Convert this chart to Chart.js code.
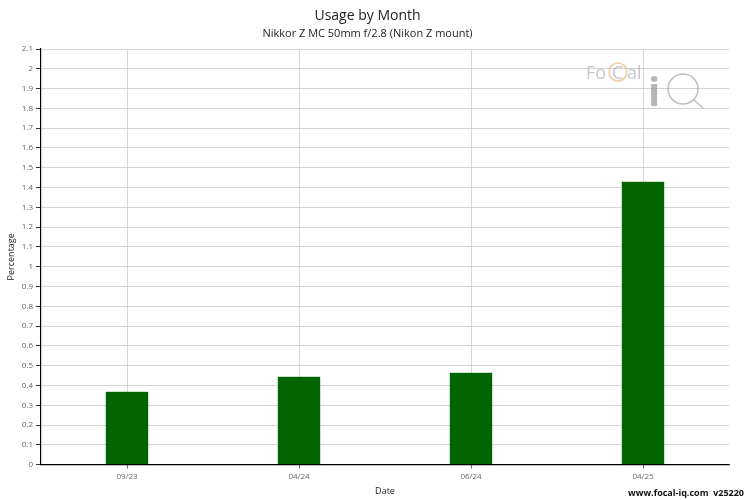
<!DOCTYPE html>
<html><head><meta charset="utf-8">
<script src="https://cdn.jsdelivr.net/npm/chart.js@4"></script>
<style>html,body{margin:0;padding:0;background:#fff}#w{width:750px;height:500px}</style>
</head><body><div id="w"><canvas id="c" width="750" height="500"></canvas></div>
<script>
const categories = ["09/23", "04/24", "06/24", "04/25"];
const usage = [0.37, 0.445, 0.465, 1.43];
const titleText = "Usage by Month";
const subtitleText = "Nikkor Z MC 50mm f/2.8 (Nikon Z mount)";
const xTitle = "Date";
const yTitle = "Percentage";
const footerText = "www.focal-iq.com  v25220";

const FONT = "'Open Sans', 'Noto Sans', sans-serif";

const decor = {
  id: 'decor',
  beforeDatasetsDraw(chart) {
    const ctx = chart.ctx;
    ctx.save();
    ctx.globalAlpha = 0.55;
    ctx.font = "18px " + FONT;
    ctx.fillStyle = '#9a9a9a';
    ctx.textBaseline = 'alphabetic';
    ctx.fillText('Fo', 586, 79);
    ctx.strokeStyle = '#e8a050';
    ctx.lineWidth = 1.5;
    ctx.beginPath(); ctx.arc(618, 72, 9, 0, Math.PI * 2); ctx.stroke();
    ctx.fillText('C', 612, 79);
    ctx.fillText('al', 627, 79);
    ctx.font = "bold 40px " + FONT;
    ctx.fillStyle = '#7a7a7a';
    ctx.fillText('i', 648, 106);
    ctx.strokeStyle = '#8a8a8a';
    ctx.lineWidth = 1.5;
    ctx.beginPath(); ctx.arc(683, 89, 15, 0, Math.PI * 2); ctx.stroke();
    ctx.beginPath(); ctx.moveTo(694, 100); ctx.lineTo(703, 108); ctx.stroke();
    ctx.restore();
  },
  afterDraw(chart) {
    const ctx = chart.ctx;
    ctx.save();
    ctx.font = "bold 9px " + FONT;
    ctx.fillStyle = '#111';
    ctx.textAlign = 'right';
    ctx.textBaseline = 'middle';
    ctx.fillText(footerText, 744, 493);
    ctx.restore();
  }
};

new Chart(document.getElementById('c'), {
  type: 'bar',
  data: {
    labels: categories,
    datasets: [{
      data: usage,
      backgroundColor: '#006400',
      borderColor: '#2e8b2e',
      borderWidth: {left: 0.5, right: 0.5, top: 0.5, bottom: 0},
      barPercentage: 0.25,
      categoryPercentage: 1.0
    }]
  },
  plugins: [decor],
  options: {
    responsive: false,
    animation: false,
    devicePixelRatio: 1,
    layout: { padding: { left: 6, right: 21, top: 2, bottom: 3 } },
    plugins: {
      legend: { display: false },
      tooltip: { enabled: false },
      title: { display: true, text: titleText, color: '#222', font: { family: FONT, size: 14, weight: 'normal' }, padding: { top: 6, bottom: 0 } },
      subtitle: { display: true, text: subtitleText, color: '#222', font: { family: FONT, size: 11, weight: 'normal' }, padding: { top: 2, bottom: 9 } }
    },
    scales: {
      x: {
        offset: true,
        grid: { offset: false, color: '#bbb', lineWidth: 0.6, tickColor: '#000', tickLength: 4, drawTicks: true },
        border: { color: '#000', width: 1.2 },
        ticks: { color: '#666', font: { family: FONT, size: 8 }, padding: 3 },
        title: { display: true, text: xTitle, color: '#222', font: { family: FONT, size: 9 }, padding: { top: 2, bottom: 0 } }
      },
      y: {
        min: 0, max: 2.1,
        grid: { color: '#c8c8c8', lineWidth: 0.8, tickColor: '#000', tickLength: 5 },
        border: { color: '#000', width: 1.2 },
        ticks: { stepSize: 0.1, color: '#666', font: { family: FONT, size: 8 }, padding: 3,
          callback: v => Math.round(v * 10) / 10 },
        afterFit(scale) { scale.width = 35; },
        title: { display: true, text: yTitle, color: '#222', font: { family: FONT, size: 9 }, padding: 0 }
      }
    }
  }
});
</script></body></html>
